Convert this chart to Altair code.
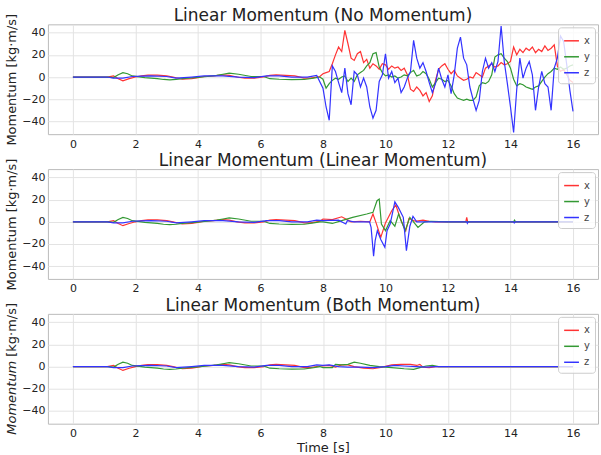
import altair as alt
import pandas as pd

# ---------------- data ----------------
SERIES = ["x", "y", "z"]
COLORS = ["#ff3333", "#339933", "#3333ff"]
TITLES = ["Linear Momentum (No Momentum)",
          "Linear Momentum (Linear Momentum)",
          "Linear Momentum (Both Momentum)"]
X_TICKS = [0, 2, 4, 6, 8, 10, 12, 14, 16]
Y_TICKS = [-40, -20, 0, 20, 40]

# smooth part shared by all panels (0 - 7.9 s)
t_sx = [0, 1.1, 1.3, 1.45, 1.6, 1.8, 2.0, 2.2, 2.4, 2.7, 3.0, 3.2, 3.5, 3.8, 4.0, 4.2, 4.5, 4.8, 5.0, 5.25, 5.5, 5.8, 6.1, 6.3, 6.5, 6.8, 7.1, 7.4, 7.6, 7.9]
v_sx = [0, 0, 1, -1.5, -3.5, -1.5, 0, 1, 1.8, 1.8, 1, 0, -2, -1.5, -0.5, 0.5, 1, 2, 1.5, 0, -1, -1, 0, 1.5, 2, 1.5, 1, -1, -1, 0.5]
t_sy = [0, 1.1, 1.3, 1.45, 1.6, 1.75, 1.9, 2.3, 2.7, 2.9, 3.1, 3.3, 3.5, 3.9, 4.3, 4.6, 4.8, 5.0, 5.3, 5.7, 6.1, 6.3, 6.6, 7.0, 7.4, 7.7, 7.9]
v_sy = [0, 0, -0.5, 2, 4, 3, 1, -0.5, -1.5, -2.2, -2.6, -2.2, -1.5, -0.5, 0.5, 1.5, 2.5, 3.5, 2.5, 0.5, 0.5, -1.5, -2, -2.3, -2.2, -1, 0]
t_sz = [0, 1.1, 1.3, 1.6, 1.9, 2.2, 2.5, 3.0, 3.3, 3.8, 4.2, 4.8, 5.3, 5.8, 6.2, 6.6, 7.0, 7.5, 7.8]
v_sz = [0, 0, -1, -1, 0.5, 0.8, 1, 0.5, -1, 0, 1, 1, 0, -0.5, 1, 1, 0, 0, 1.5]

# panel 1 (No Momentum), 8.0 - 16.0 s every 0.1 s
t_p1 = [round(8.0 + 0.1 * i, 1) for i in range(81)]
x_p1 = [3, 4, 5, 12, 20, 27, 23, 42, 30, 17, 15, 21, 23, 13, 16, 8, 12, 10, 7, 12,
        11, 7, 10, 8, 9, 6, 8, 2, -11, -13, -9, -12, -17, -14, -22, -17, -3, 7, 10, 12,
        7, 3, 6, 1, -1, -3, -2, 0, -1, 4, 2, 0, 8, 10, 12, 9, 10, 13, 11, 12,
        14, 27, 20, 25, 22, 26, 24, 27, 22, 25, 23, 28, 24, 26, 29, 10, 5, 7, 2, -3, -5]
y_p1 = [-2, -10, -6, -3, -1, -2, 0, 1, -4, -1, -4, 2, 4, 6, 10, 13, 21, 22, 9, 4,
        1, 2, 0, 1, -1, 0, 2, 1, 4, 6, 1, 2, 5, 3, -2, -9, -5, -1, -2, -4,
        -3, -8, -15, -19, -20, -21, -20, -21, -21, -18, -8, -5, -6, -4, 2, 18, 20, 21, 17, 14,
        8, -2, -8, -6, -7, -9, -10, -11, -9, -8, -4, 0, 3, 5, 8, 7, 9, 7, 8, 10, 11]
z_p1 = [-10, -27, -39, 10, 5, -5, -14, 8, -15, -25, 5, 2, -9, -1, -9, -27, -37, -30, -4, 2,
        21, -1, 5, -5, -1, -14, -9, -1, 5, 33, 17, 8, 13, 5, -5, -14, -6, 8, -2, -9,
        2, -15, 2, 26, 36, 17, 11, -9, -20, -30, -21, 5, 17, 8, 13, 5, 14, 46, 14, -6,
        -27, -50, -11, 17, -1, 8, 14, 2, -30, -9, 5, -6, -9, -30, 8, 17, 37, 32, 11, -12, -31]

# panel 2 (Linear Momentum), after 8 s
t_p2x = [8.0, 8.3, 8.6, 8.9, 9.2, 9.5, 9.6, 9.7, 9.85, 10.0, 10.2, 10.33, 10.5, 10.65, 10.75, 10.95, 11.2, 11.4, 11.6, 12.57, 12.6, 12.63, 16.0]
x_p2 = [2.5, 2, 4.5, 0, 0.5, 0, 7, -1, -14, -1, 10, 15, 1, -8, 3, 0.5, 1.5, 0.5, 0, 0, 4, 0, 0]
t_p2y = [8.0, 8.3, 8.6, 8.95, 9.4, 9.6, 9.73, 9.8, 9.87, 10.0, 10.15, 10.3, 10.42, 10.63, 10.78, 11.04, 11.25, 11.45, 12.0, 14.1, 14.13, 14.16, 16.0]
y_p2 = [0, -1.5, 1, 4, 7, 8.5, 19, 20.5, -2, -8, 1, -4, 7, -8, 4, -5, 0, 0.5, 0, 0, 1.5, 0, 0]
t_p2z = [8.0, 8.5, 8.73, 8.78, 9.0, 9.49, 9.54, 9.62, 9.67, 9.74, 9.85, 9.98, 10.05, 10.15, 10.3, 10.41, 10.57, 10.67, 10.78, 10.88, 11.0, 12.6, 12.62, 12.65, 14.1, 14.12, 14.15, 16.0]
z_p2 = [1, 1.5, -2, 1, 0, 0, -5, -31, -17, -8, -16, -23, -8, -2, 18, 13, 4, -26, -4, 5, 0, 0, -1.5, 0, 0, -1, 0, 0]

# panel 3 (Both Momentum), after 8 s
t_p3x = [8.0, 8.2, 8.4, 8.6, 8.8, 9.0, 9.3, 9.6, 9.9, 10.2, 10.5, 10.8, 11.0, 11.1, 11.2, 11.4, 11.6, 16.0]
x_p3 = [0.5, 1, -0.5, 1.5, 1.5, 0, -1.5, -2, -0.5, 1.5, 2, 2, 1, 2, -0.5, -1, 0, 0]
t_p3y = [8.0, 8.3, 8.4, 8.6, 8.8, 9.0, 9.2, 9.5, 9.8, 10.2, 10.6, 10.9, 11.1, 11.3, 11.5, 11.7, 16.0]
y_p3 = [-1, -1, 2, 1.5, 2, 4, 3, 1, 0, -1, -2, -2.5, -1, 0.5, 1, 0, 0]
t_p3z = [8.0, 8.2, 8.5, 8.8, 9.2, 9.6, 10.0, 10.3, 10.6, 11.0, 11.3, 11.6, 16.0]
z_p3 = [1, 1.5, 0, -0.5, -0.5, -1, 0, 1, 0.5, 0, -0.5, 0, 0]


def make_df(parts):
    rows = []
    for name, ts, vs in parts:
        for t, v in zip(ts, vs):
            rows.append({"t": t, "v": v, "s": name})
    return pd.DataFrame(rows)


df1 = make_df([("x", t_sx + t_p1, v_sx + x_p1), ("y", t_sy + t_p1, v_sy + y_p1), ("z", t_sz + t_p1, v_sz + z_p1)])
df2 = make_df([("x", t_sx + t_p2x, v_sx + x_p2), ("y", t_sy + t_p2y, v_sy + y_p2), ("z", t_sz + t_p2z, v_sz + z_p2)])
df3 = make_df([("x", t_sx + t_p3x, v_sx + x_p3), ("y", t_sy + t_p3y, v_sy + y_p3), ("z", t_sz + t_p3z, v_sz + z_p3)])

FONT = "DejaVu Sans"
W, H = 551, 110


def panel(df, title, last=False):
    xaxis = dict(values=X_TICKS, labelFontSize=11, tickSize=0, labelPadding=4, grid=True)
    if last:
        xaxis.update(title="Time [s]", titleFontSize=13, titleFontWeight="normal", titlePadding=3, titleColor="#222222")
    else:
        xaxis.update(title=None)
    yaxis = dict(values=Y_TICKS, labelFontSize=11, tickSize=0, labelPadding=3,
                 title="Momentum [kg·m/s]", titleFontSize=13, titleFontWeight="normal",
                 titlePadding=3, titleColor="#222222")
    if last:
        yaxis.update(titleOpacity=0)
    lines = alt.Chart(df).mark_line(strokeWidth=1.2, interpolate="linear").encode(
        x=alt.X("t:Q", scale=alt.Scale(domain=[-0.8, 16.8], nice=False, zero=False), axis=alt.Axis(**xaxis)),
        y=alt.Y("v:Q", scale=alt.Scale(domain=[-51.5, 47.5], nice=False, zero=False), axis=alt.Axis(**yaxis)),
        color=alt.Color("s:N", scale=alt.Scale(domain=SERIES, range=COLORS),
                        legend=alt.Legend(title=None, orient="top-right", offset=3, padding=5,
                                          fillColor="rgba(255,255,255,0.8)", strokeColor="#cccccc",
                                          cornerRadius=3, symbolType="stroke", symbolStrokeWidth=1.5,
                                          symbolSize=220, labelFontSize=10, labelColor="#444444",
                                          rowPadding=2)),
    )
    one = pd.DataFrame({"a": [0]})
    ttl = alt.Chart(one).mark_text(align="center", baseline="alphabetic", fontSize=17, font=FONT,
                                   color="#222222").encode(
        x=alt.value(W / 2), y=alt.value(-3), text=alt.value(title))
    layers = [lines, ttl]
    if last:
        layers.append(alt.Chart(one).mark_text(angle=270, align="left", baseline="middle", fontSize=13,
                                               fontStyle="italic", font=FONT, color="#222222").encode(
            x=alt.value(-36), y=alt.value(121), text=alt.value("Momentum")))
        layers.append(alt.Chart(one).mark_text(angle=270, align="left", baseline="middle", fontSize=13,
                                               font=FONT, color="#222222").encode(
            x=alt.value(-36), y=alt.value(43), text=alt.value("[kg·m/s]")))
    return alt.layer(*layers).properties(width=W, height=H)


chart = alt.vconcat(panel(df1, TITLES[0]), panel(df2, TITLES[1]), panel(df3, TITLES[2], last=True),
                    spacing=35, bounds="flush").resolve_legend(color="independent").properties(
    padding={"left": 5, "top": 6, "right": 2, "bottom": 2}
).configure(font=FONT).configure_view(stroke="#bbbbbb", strokeWidth=1).configure_axis(
    gridColor="#e3e3e3", gridWidth=1, domain=False, labelColor="#222222", labelFont=FONT, titleFont=FONT
)

chart.save("out.html", embed_options={"renderer": "svg", "actions": False})
